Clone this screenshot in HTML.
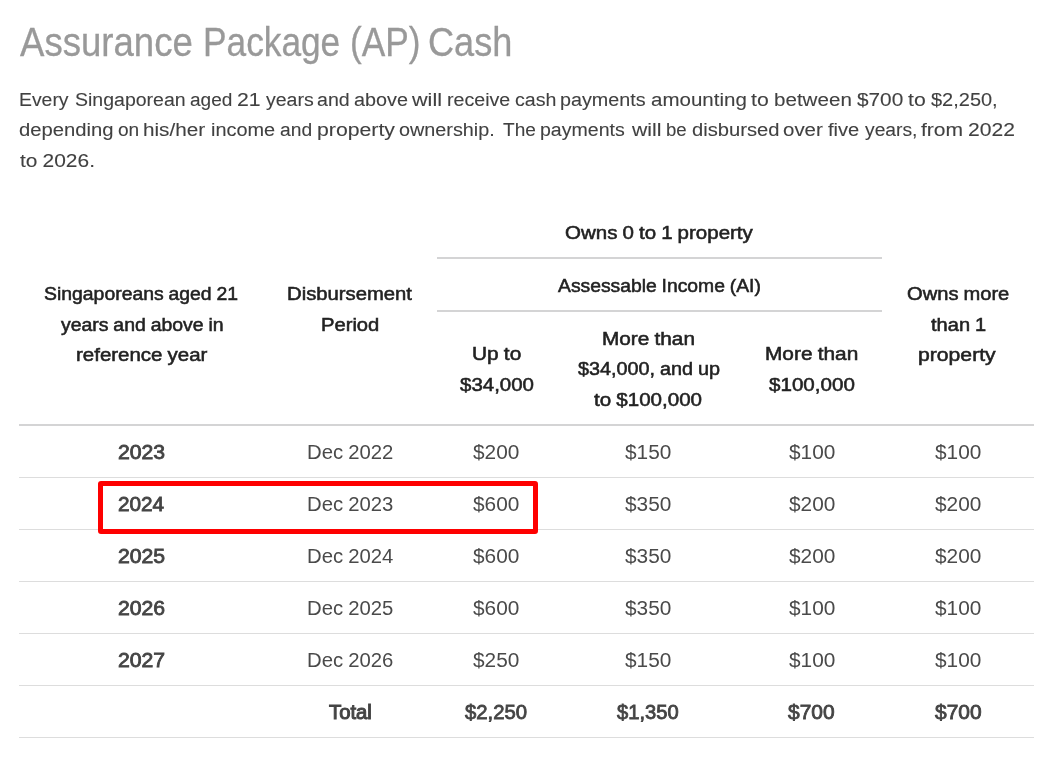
<!DOCTYPE html>
<html lang="en"><head><meta charset="utf-8"><title>Assurance Package (AP) Cash</title>
<style>
html,body{margin:0;padding:0;background:#fff;}
body{width:1055px;height:761px;position:relative;overflow:hidden;font-family:"Liberation Sans",sans-serif;}
h1,p{margin:0;font-weight:400;font-size:19.7px;}
table{border-collapse:collapse;border-spacing:0;width:0;height:0;font-size:19.7px;}
th,td{padding:0;border:0;font-weight:400;}
.t{position:absolute;white-space:nowrap;transform-origin:0 0;margin:0;font-weight:400;word-spacing:-0.03em;}
.ti{font-size:40px;line-height:64px;color:#999;-webkit-text-stroke:0.3px #999;}
.pp{font-size:19.2px;line-height:31px;color:#414141;-webkit-text-stroke:0.1px #414141;}
.hh{font-size:18.9px;line-height:30px;color:#222;-webkit-text-stroke:0.55px #222;}
.bb{font-size:19.7px;line-height:32px;color:#4a4a4a;}
.bd{font-size:19.7px;line-height:32px;color:#444;-webkit-text-stroke:0.8px #444;}
.ln{position:absolute;background:#ddd;height:1px;left:19px;width:1015px;}
.hl{position:absolute;background:#d4d4d5;height:2px;}
.box{position:absolute;left:98px;top:481px;width:430px;height:43px;border:5px solid #fe0000;border-radius:3px;}
</style></head><body>
<h1><span class="t ti" style="left:20.00px;top:9.89px;transform:scaleX(0.9144);">Assurance</span> <span class="t ti" style="left:202.96px;top:9.89px;transform:scaleX(0.8815);">Package</span> <span class="t ti" style="left:349.74px;top:9.89px;transform:scaleX(0.8816);">(AP)</span> <span class="t ti" style="left:427.79px;top:9.89px;transform:scaleX(0.9034);">Cash</span></h1>
<p><span class="t pp" style="left:19.49px;top:83.85px;transform:scaleX(1.0104);">Every</span> <span class="t pp" style="left:75.48px;top:83.85px;transform:scaleX(1.0168);">Singaporean</span> <span class="t pp" style="left:189.81px;top:83.85px;transform:scaleX(0.9927);">aged</span> <span class="t pp" style="left:236.70px;top:83.85px;transform:scaleX(1.1050);">21</span> <span class="t pp" style="left:265.50px;top:83.85px;transform:scaleX(1.0174);">years</span> <span class="t pp" style="left:316.78px;top:83.85px;transform:scaleX(1.0200);">and</span> <span class="t pp" style="left:353.57px;top:83.85px;transform:scaleX(1.0314);">above</span> <span class="t pp" style="left:412.40px;top:83.85px;transform:scaleX(1.1269);">will</span> <span class="t pp" style="left:447.08px;top:83.85px;transform:scaleX(1.0233);">receive</span> <span class="t pp" style="left:515.38px;top:83.85px;transform:scaleX(1.0211);">cash</span> <span class="t pp" style="left:560.27px;top:83.85px;transform:scaleX(1.0293);">payments</span> <span class="t pp" style="left:650.83px;top:83.85px;transform:scaleX(1.0693);">amounting</span> <span class="t pp" style="left:751.20px;top:83.85px;transform:scaleX(1.1067);">to</span> <span class="t pp" style="left:773.83px;top:83.85px;transform:scaleX(1.0729);">between</span> <span class="t pp" style="left:857.00px;top:83.85px;transform:scaleX(1.0833);">$700</span> <span class="t pp" style="left:908.20px;top:83.85px;transform:scaleX(1.1067);">to</span> <span class="t pp" style="left:930.90px;top:83.85px;transform:scaleX(1.0413);">$2,250,</span> <span class="t pp" style="left:18.54px;top:114.25px;transform:scaleX(1.0557);">depending</span> <span class="t pp" style="left:117.71px;top:114.25px;transform:scaleX(0.9947);">on</span> <span class="t pp" style="left:143.32px;top:114.25px;transform:scaleX(1.0789);">his/her</span> <span class="t pp" style="left:211.16px;top:114.25px;transform:scaleX(1.0367);">income</span> <span class="t pp" style="left:279.70px;top:114.25px;transform:scaleX(1.0033);">and</span> <span class="t pp" style="left:316.69px;top:114.25px;transform:scaleX(1.1072);">property</span> <span class="t pp" style="left:399.27px;top:114.25px;transform:scaleX(1.0322);">ownership.</span> <span class="t pp" style="left:502.70px;top:114.25px;transform:scaleX(0.9939);">The</span> <span class="t pp" style="left:540.48px;top:114.25px;transform:scaleX(1.0183);">payments</span> <span class="t pp" style="left:631.90px;top:114.25px;transform:scaleX(1.1077);">will</span> <span class="t pp" style="left:666.03px;top:114.25px;transform:scaleX(0.9700);">be</span> <span class="t pp" style="left:692.35px;top:114.25px;transform:scaleX(1.0519);">disbursed</span> <span class="t pp" style="left:783.13px;top:114.25px;transform:scaleX(1.0667);">over</span> <span class="t pp" style="left:828.10px;top:114.25px;transform:scaleX(1.0483);">five</span> <span class="t pp" style="left:864.50px;top:114.25px;transform:scaleX(1.0039);">years,</span> <span class="t pp" style="left:921.30px;top:114.25px;transform:scaleX(1.0974);">from</span> <span class="t pp" style="left:967.90px;top:114.25px;transform:scaleX(1.0976);">2022</span> <span class="t pp" style="left:20.00px;top:144.85px;transform:scaleX(1.0896);">to 2026.</span></p>
<div class="hl" style="left:437px;top:257px;width:445px"></div>
<div class="hl" style="left:437px;top:310px;width:445px"></div>
<div class="hl" style="left:19px;top:424px;width:1015px"></div>
<div class="ln" style="top:477px"></div>
<div class="ln" style="top:529px"></div>
<div class="ln" style="top:581px"></div>
<div class="ln" style="top:633px"></div>
<div class="ln" style="top:685px"></div>
<div class="ln" style="top:737px"></div>
<table><thead>
<tr><th rowspan="3"><span class="t hh" style="left:43.97px;top:278.75px;transform:scaleX(1.0266);">Singaporeans aged 21</span><br><span class="t hh" style="left:61.30px;top:309.75px;transform:scaleX(1.0293);">years and above in</span><br><span class="t hh" style="left:75.82px;top:339.75px;transform:scaleX(1.0833);">reference year</span></th><th rowspan="3"><span class="t hh" style="left:287.43px;top:278.75px;transform:scaleX(1.0724);">Disbursement</span><br><span class="t hh" style="left:321.23px;top:309.75px;transform:scaleX(1.0679);">Period</span></th><th colspan="3"><span class="t hh" style="left:565.00px;top:217.75px;transform:scaleX(1.0851);">Owns 0 to 1 property</span></th><th rowspan="3"><span class="t hh" style="left:907.00px;top:278.75px;transform:scaleX(1.0656);">Owns more</span><br><span class="t hh" style="left:930.80px;top:309.75px;transform:scaleX(1.0615);">than 1</span><br><span class="t hh" style="left:918.38px;top:339.75px;transform:scaleX(1.1203);">property</span></th></tr>
<tr><th colspan="3"><span class="t hh" style="left:558.20px;top:270.75px;transform:scaleX(1.0227);">Assessable Income (AI)</span></th></tr>
<tr><th><span class="t hh" style="left:471.60px;top:338.75px;transform:scaleX(1.1047);">Up to</span><br><span class="t hh" style="left:459.80px;top:369.75px;transform:scaleX(1.0838);">$34,000</span></th><th><span class="t hh" style="left:601.50px;top:323.75px;transform:scaleX(1.1000);">More than</span><br><span class="t hh" style="left:577.90px;top:353.75px;transform:scaleX(1.0489);">$34,000, and up</span><br><span class="t hh" style="left:594.40px;top:384.75px;transform:scaleX(1.0889);">to $100,000</span></th><th><span class="t hh" style="left:764.50px;top:338.75px;transform:scaleX(1.1036);">More than</span><br><span class="t hh" style="left:768.50px;top:369.75px;transform:scaleX(1.0899);">$100,000</span></th></tr>
</thead><tbody>
<tr><td><span class="t bd" style="left:118.35px;top:436.17px;transform:scaleX(1.0767);">2023</span></td><td><span class="t bb" style="left:306.97px;top:436.17px;transform:scaleX(1.0317);">Dec 2022</span></td><td><span class="t bb" style="left:473.25px;top:436.17px;transform:scaleX(1.0581);">$200</span></td><td><span class="t bb" style="left:625.25px;top:436.17px;transform:scaleX(1.0581);">$150</span></td><td><span class="t bb" style="left:788.75px;top:436.17px;transform:scaleX(1.0581);">$100</span></td><td><span class="t bb" style="left:935.05px;top:436.17px;transform:scaleX(1.0581);">$100</span></td></tr>
<tr><td><span class="t bd" style="left:118.35px;top:488.17px;transform:scaleX(1.0523);">2024</span></td><td><span class="t bb" style="left:306.97px;top:488.17px;transform:scaleX(1.0317);">Dec 2023</span></td><td><span class="t bb" style="left:473.25px;top:488.17px;transform:scaleX(1.0581);">$600</span></td><td><span class="t bb" style="left:625.25px;top:488.17px;transform:scaleX(1.0581);">$350</span></td><td><span class="t bb" style="left:788.75px;top:488.17px;transform:scaleX(1.0581);">$200</span></td><td><span class="t bb" style="left:935.05px;top:488.17px;transform:scaleX(1.0581);">$200</span></td></tr>
<tr><td><span class="t bd" style="left:118.35px;top:540.17px;transform:scaleX(1.0767);">2025</span></td><td><span class="t bb" style="left:306.97px;top:540.17px;transform:scaleX(1.0317);">Dec 2024</span></td><td><span class="t bb" style="left:473.25px;top:540.17px;transform:scaleX(1.0581);">$600</span></td><td><span class="t bb" style="left:625.25px;top:540.17px;transform:scaleX(1.0581);">$350</span></td><td><span class="t bb" style="left:788.75px;top:540.17px;transform:scaleX(1.0581);">$200</span></td><td><span class="t bb" style="left:935.05px;top:540.17px;transform:scaleX(1.0581);">$200</span></td></tr>
<tr><td><span class="t bd" style="left:118.35px;top:592.17px;transform:scaleX(1.0767);">2026</span></td><td><span class="t bb" style="left:306.97px;top:592.17px;transform:scaleX(1.0317);">Dec 2025</span></td><td><span class="t bb" style="left:473.25px;top:592.17px;transform:scaleX(1.0581);">$600</span></td><td><span class="t bb" style="left:625.25px;top:592.17px;transform:scaleX(1.0581);">$350</span></td><td><span class="t bb" style="left:788.75px;top:592.17px;transform:scaleX(1.0581);">$100</span></td><td><span class="t bb" style="left:935.05px;top:592.17px;transform:scaleX(1.0581);">$100</span></td></tr>
<tr><td><span class="t bd" style="left:118.35px;top:644.17px;transform:scaleX(1.0767);">2027</span></td><td><span class="t bb" style="left:306.97px;top:644.17px;transform:scaleX(1.0317);">Dec 2026</span></td><td><span class="t bb" style="left:473.25px;top:644.17px;transform:scaleX(1.0581);">$250</span></td><td><span class="t bb" style="left:625.25px;top:644.17px;transform:scaleX(1.0581);">$150</span></td><td><span class="t bb" style="left:788.75px;top:644.17px;transform:scaleX(1.0581);">$100</span></td><td><span class="t bb" style="left:935.05px;top:644.17px;transform:scaleX(1.0581);">$100</span></td></tr>
<tr><td></td><td><span class="t bd" style="left:328.90px;top:696.17px;transform:scaleX(1.0293);-webkit-text-stroke-width:1.0px;">Total</span></td><td><span class="t bd" style="left:465.20px;top:696.17px;transform:scaleX(1.0300);">$2,250</span></td><td><span class="t bd" style="left:617.20px;top:696.17px;transform:scaleX(1.0233);">$1,350</span></td><td><span class="t bd" style="left:788.00px;top:696.17px;transform:scaleX(1.0636);">$700</span></td><td><span class="t bd" style="left:934.80px;top:696.17px;transform:scaleX(1.0636);">$700</span></td></tr>
</tbody></table>
<div class="box"></div>
</body></html>
